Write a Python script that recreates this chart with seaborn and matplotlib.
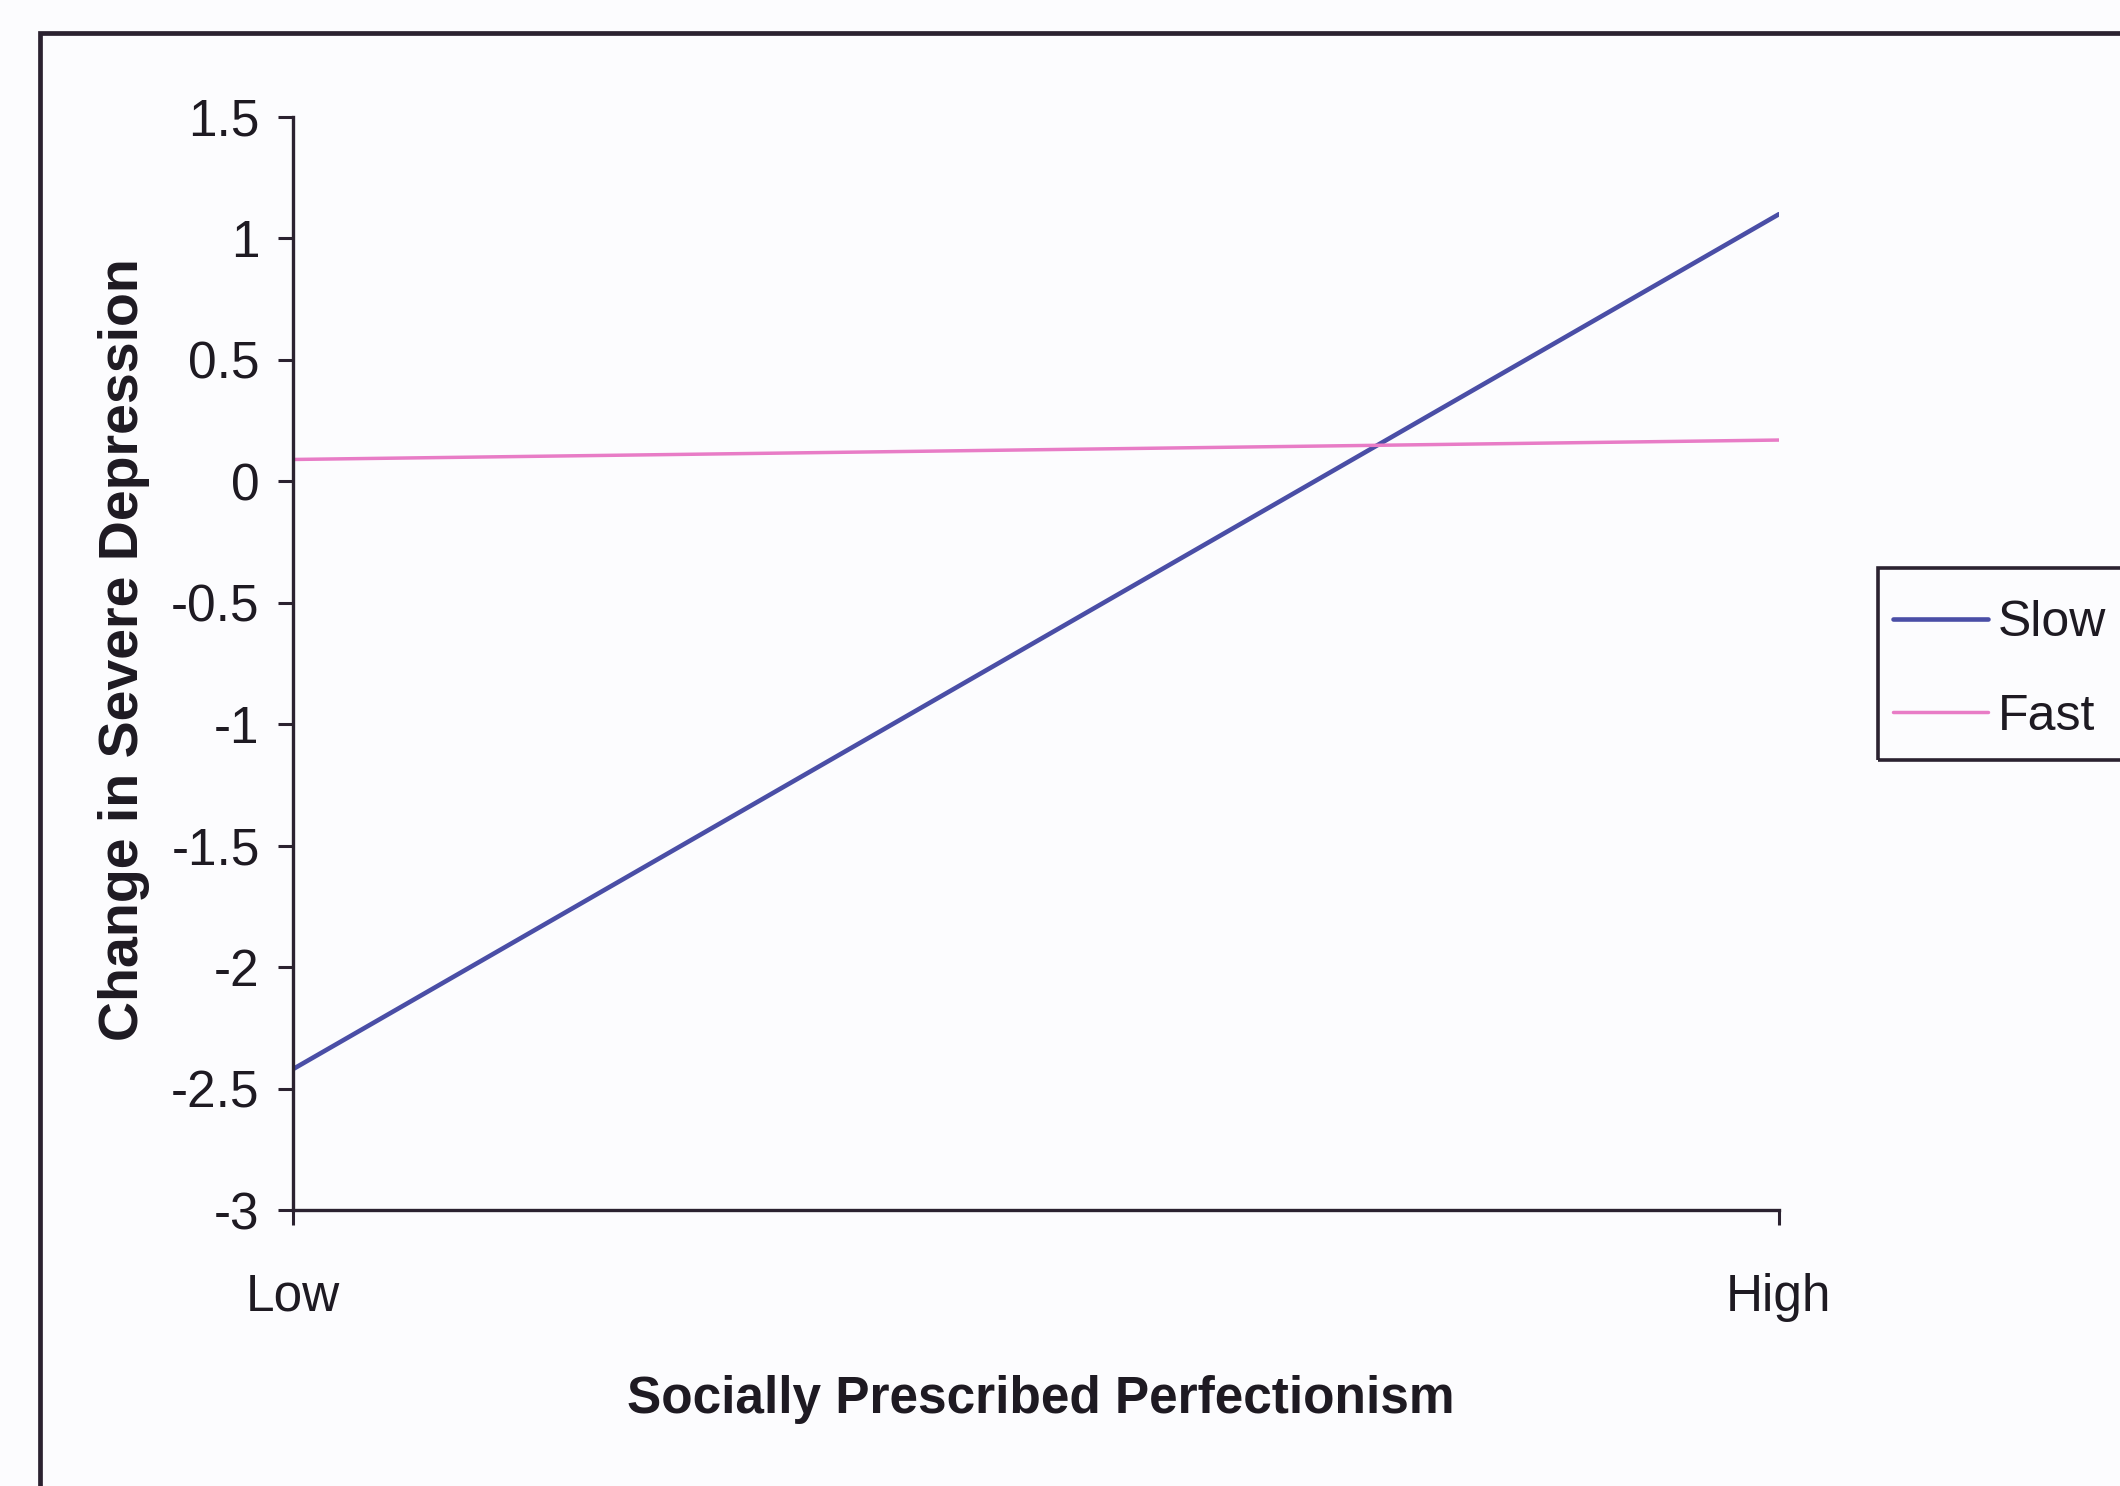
import matplotlib
matplotlib.use("Agg")
import matplotlib.pyplot as plt
from matplotlib.patches import Rectangle
from matplotlib.ticker import FuncFormatter
import numpy as np
import pandas as pd
import seaborn as sns

# Simple-slope values for the two groups at low / high perfectionism
levels = ["Low", "High"]
slow_values = [-2.42, 1.10]
fast_values = [0.09, 0.17]
series_names = ["Slow", "Fast"]
y_ticks = [1.5, 1, 0.5, 0, -0.5, -1, -1.5, -2, -2.5, -3]

df = pd.DataFrame({
    "level": levels * 2,
    "pos": [0, 1] * 2,
    "change": slow_values + fast_values,
    "group": [series_names[0]] * 2 + [series_names[1]] * 2,
})

sns.set_theme(style="white")
plt.rcParams["font.family"] = ["Liberation Sans", "DejaVu Sans"]
plt.rcParams["axes.unicode_minus"] = False

W, H = 2120, 1486
ink = "#2b2230"
text_ink = "#1e1a22"
bg = "#fcfcfe"
fig = plt.figure(figsize=(W / 100, H / 100), dpi=100, facecolor=bg)
ax = fig.add_axes([293 / W, 276 / H, (1779 - 293) / W, (1210 - 117) / H])
ax.set_facecolor(bg)

palette = {"Slow": "#4a4ea6", "Fast": "#e87cc6"}
widths = [3.3, 2.5]
sns.lineplot(data=df, x="pos", y="change", hue="group", palette=palette,
             hue_order=series_names, ax=ax, legend=False, sort=False)
for line, lw in zip(ax.lines, widths):
    line.set_linewidth(lw)

ax.set_xlim(0, 1)
ax.set_ylim(-3, 1.5)
ax.set_xticks([0, 1])
ax.set_xticklabels(levels)
ax.set_yticks(y_ticks)
ax.yaxis.set_major_formatter(FuncFormatter(lambda v, _: f"{v:g}"))

for side in ["top", "right"]:
    ax.spines[side].set_visible(False)
for side in ["left", "bottom"]:
    ax.spines[side].set_color(ink)
    ax.spines[side].set_linewidth(2.4)

ax.tick_params(axis="y", which="major", direction="out", length=11, width=2.2,
               color=ink, pad=13, labelsize=37, labelcolor=text_ink, left=True)
ax.tick_params(axis="x", which="major", direction="out", length=11, width=2.2,
               color=ink, pad=34, labelsize=37, labelcolor=text_ink, bottom=True)

ax.set_xlabel("Socially Prescribed Perfectionism", fontsize=37, fontweight="bold",
              color=text_ink)
ax.set_ylabel("Change in Severe Depression", fontsize=40, fontweight="bold",
              color=text_ink)
ax.xaxis.set_label_coords(0.5 + 5 / 1486, -0.173)
ax.xaxis.label.set_va("center")
ax.yaxis.set_label_coords(-0.1137, 0.513)
ax.yaxis.label.set_va("center")

# Legend entries, with a separate box drawn around them at the chart edge
handles = [plt.Line2D([], [], color=palette[s], lw=lw) for s, lw in zip(series_names, widths)]
leg = fig.legend(handles, series_names, loc="upper left",
                 bbox_to_anchor=(1893 / W, 1 - 600 / H), borderaxespad=0,
                 fontsize=36, frameon=False, handlelength=1.9,
                 handletextpad=0.2, labelspacing=0.95, borderpad=0)
for t in leg.get_texts():
    t.set_color(text_ink)
fig.add_artist(Rectangle((1878 / W, 1 - 760 / H), 0.2, (760 - 568) / H,
                         transform=fig.transFigure, fill=False,
                         edgecolor=ink, linewidth=2.6, clip_on=False))

# Outer chart-area border
fig.add_artist(Rectangle((40 / W, -0.1), 1.2, 1.1 - 33 / H,
                         transform=fig.transFigure, fill=False,
                         edgecolor=ink, linewidth=3.4, clip_on=False))

fig.savefig("out.png", dpi=100, facecolor=fig.get_facecolor())
